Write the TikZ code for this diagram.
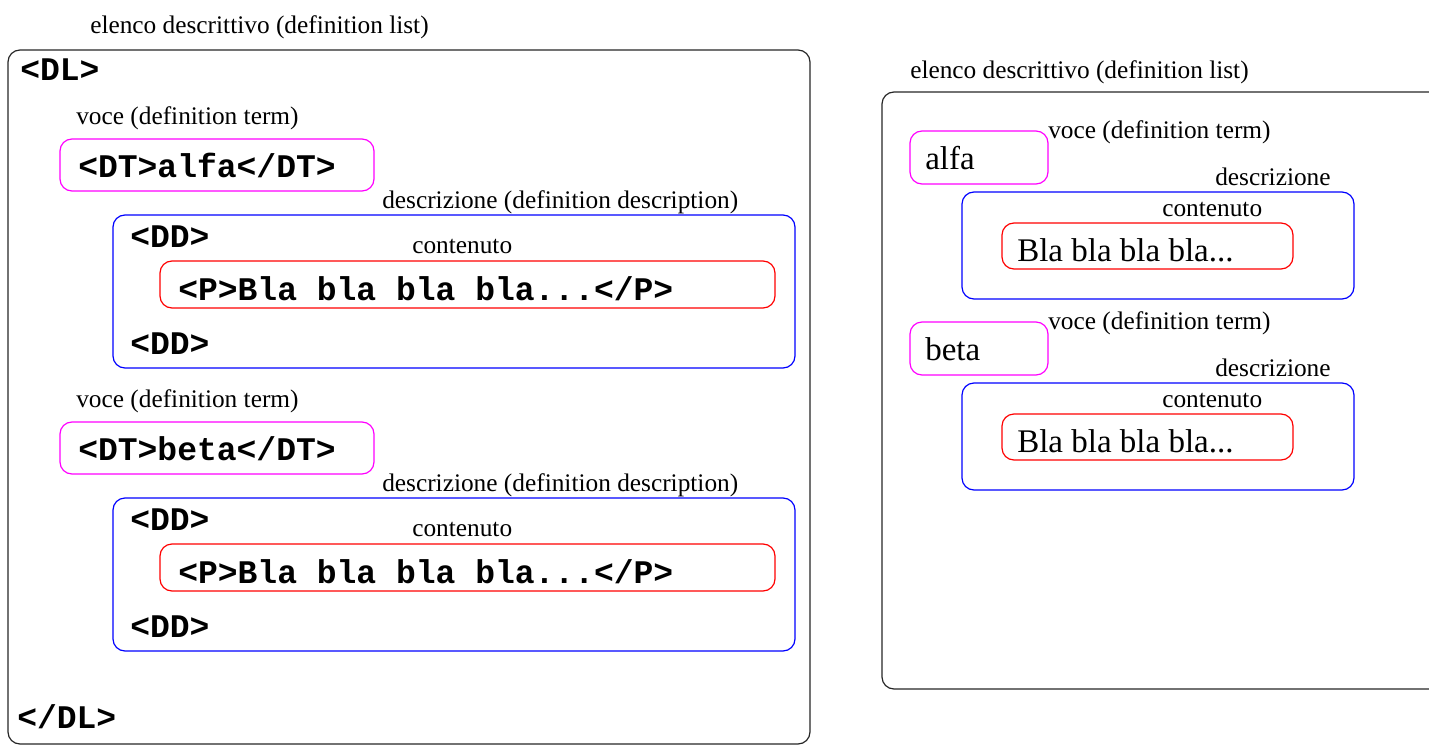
\documentclass[tikz,border=0pt]{standalone}
\usepackage{fontspec}
\setmainfont{Liberation Serif}
\setmonofont{Liberation Mono}
\usetikzlibrary{positioning}
\definecolor{termcol}{RGB}{255,0,255}
\definecolor{desccol}{RGB}{0,0,255}
\definecolor{parcol}{RGB}{255,0,0}

\begin{document}
\begin{tikzpicture}[x=0.75pt,y=-0.75pt,
    frame/.style={draw=black!85,line width=0.9pt,rounded corners=9pt},
    termbox/.style={frame,draw=termcol},
    descbox/.style={frame,draw=desccol},
    parbox/.style={frame,draw=parcol},
    lbl/.style={font=\fontsize{19}{19}\selectfont,inner sep=0pt,anchor=base west},
    tag/.style={font=\fontsize{24.75}{25}\selectfont\ttfamily\bfseries,inner sep=0pt,anchor=base west},
    txt/.style={font=\fontsize{24.75}{25}\selectfont,inner sep=0pt,anchor=base west}]
  \useasboundingbox (0,0) rectangle (1429,746);

  % source form
  \node[lbl] (ltitle) at (90,33) {elenco descrittivo (definition list)};
  \draw[frame] (8,50) rectangle (810,744);
  \node[tag] (dlopen) at (20,80) {<DL>};
  \node[tag] (dlclose) at (17,728) {</DL>};
  \foreach \dy/\word/\n in {0/alfa/1,283/beta/2}{
    \node[lbl] (lvoce\n) at (76,124+\dy) {voce (definition term)};
    \draw[termbox] (60,139+\dy) rectangle (374,191+\dy);
    \node[tag] (ldt\n) at (78,177+\dy) {<DT>\word</DT>};
    \node[lbl] (ldesc\n) at (382,208+\dy) {descrizione (definition description)};
    \draw[descbox] (113,215+\dy) rectangle (795,368+\dy);
    \node[tag] (ldd\n) at (130,247+\dy) {<DD>};
    \node[lbl] (lcont\n) at (412,253+\dy) {contenuto};
    \draw[parbox] (160,261+\dy) rectangle (775,308+\dy);
    \node[tag] (lp\n) at (178,300+\dy) {<P>Bla bla bla bla...</P>};
    \node[tag] (ldde\n) at (130,354+\dy) {<DD>};
  }

  % rendered form
  \node[lbl] (rtitle) at (910,78) {elenco descrittivo (definition list)};
  \draw[frame] (882,92) rectangle (1445,689);
  \foreach \dy/\word/\n in {0/alfa/1,191/beta/2}{
    \draw[termbox] (910,131+\dy) rectangle (1048,184+\dy);
    \node[txt] (rterm\n) at (925,169+\dy) {\word};
    \node[lbl] (rvoce\n) at (1048,138+\dy) {voce (definition term)};
    \node[lbl] (rdesc\n) at (1215,185+\dy) {descrizione};
    \draw[descbox] (962,192+\dy) rectangle (1354,299+\dy);
    \node[lbl] (rcont\n) at (1162,216+\dy) {contenuto};
    \draw[parbox] (1002,223+\dy) rectangle (1293,269+\dy);
    \node[txt] (rpar\n) at (1017,261+\dy) {Bla bla bla bla...};
  }
\end{tikzpicture}
\end{document}
